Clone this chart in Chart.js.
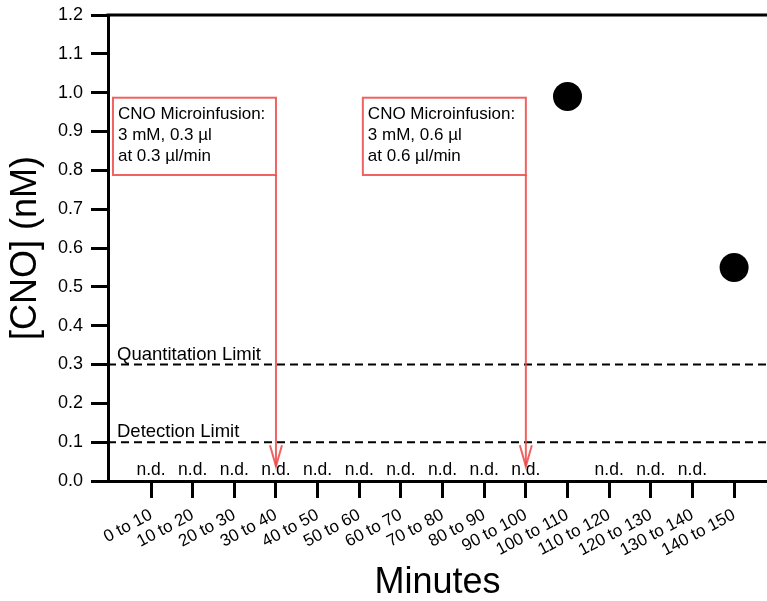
<!DOCTYPE html>
<html><head><meta charset="utf-8">
<script src="https://cdn.jsdelivr.net/npm/chart.js@4/dist/chart.umd.min.js"></script>
<style>html,body{margin:0;padding:0;background:#fff}</style>
</head><body>
<canvas id="c" width="767" height="601"></canvas>
<script>
const categories = ['0 to 10','10 to 20','20 to 30','30 to 40','40 to 50','50 to 60','60 to 70','70 to 80','80 to 90','90 to 100','100 to 110','110 to 120','120 to 130','130 to 140','140 to 150'];
const cnoValues = [null,null,null,null,null,null,null,null,null,null,0.99,null,null,null,0.55];
const notDetectedLabel = 'n.d.';
const yTickValues = [0,0.1,0.2,0.3,0.4,0.5,0.6,0.7,0.8,0.9,1.0,1.1,1.2];
const limitValues = [0.3, 0.1];
const limitLabels = ['Quantitation Limit', 'Detection Limit'];
const infusionCategories = ['30 to 40', '90 to 100'];
const infusionText = [
  ['CNO Microinfusion:', '3 mM, 0.3 \u00b5l', 'at 0.3 \u00b5l/min'],
  ['CNO Microinfusion:', '3 mM, 0.6 \u00b5l', 'at 0.6 \u00b5l/min']
];

const FONT = "'Liberation Sans', Arial, sans-serif";
const RED = 'rgba(238,70,70,0.85)';

const overlay = {
  id: 'overlay',
  afterDraw(chart) {
    const ctx = chart.ctx, ca = chart.chartArea;
    const xs = chart.scales.x, ys = chart.scales.y;
    ctx.save();
    ctx.strokeStyle = '#000'; ctx.lineWidth = 3;
    ctx.beginPath(); ctx.moveTo(ca.left - 1.5, ca.top); ctx.lineTo(chart.width, ca.top); ctx.stroke();
    ctx.setLineDash([8, 5]); ctx.lineWidth = 2;
    limitValues.forEach((v) => {
      const y = ys.getPixelForValue(v);
      ctx.beginPath(); ctx.moveTo(ca.left, y); ctx.lineTo(chart.width, y); ctx.stroke();
    });
    ctx.setLineDash([]);
    ctx.fillStyle = '#000';
    ctx.font = '18.5px ' + FONT;
    ctx.textAlign = 'left'; ctx.textBaseline = 'alphabetic';
    limitValues.forEach((v, i) => {
      const y = ys.getPixelForValue(v);
      ctx.fillText(limitLabels[i], ca.left + 9, y - 5);
    });
    ctx.font = '17.5px ' + FONT;
    ctx.textAlign = 'center';
    cnoValues.forEach((v, i) => {
      if (v === null) ctx.fillText(notDetectedLabel, xs.getPixelForValue(i), ca.bottom - 6);
    });
    infusionCategories.forEach((cat, k) => {
      const ax = xs.getPixelForValue(categories.indexOf(cat));
      const boxTop = ys.getPixelForValue(0.987);
      const boxBot = ys.getPixelForValue(0.788);
      const tipY = ys.getPixelForValue(0.038);
      const w = 163;
      ctx.strokeStyle = RED; ctx.lineWidth = 2;
      ctx.strokeRect(ax - w, boxTop, w, boxBot - boxTop);
      ctx.beginPath(); ctx.moveTo(ax, boxBot); ctx.lineTo(ax, tipY); ctx.stroke();
      ctx.beginPath();
      ctx.moveTo(ax - 6, tipY - 21); ctx.lineTo(ax, tipY); ctx.lineTo(ax + 6, tipY - 21);
      ctx.stroke();
      ctx.fillStyle = '#000';
      ctx.font = '17px ' + FONT;
      ctx.textAlign = 'left';
      infusionText[k].forEach((line, j) => {
        ctx.fillText(line, ax - w + 5, boxTop + 21 + j * 21);
      });
    });
    ctx.restore();
  }
};

new Chart(document.getElementById('c'), {
  type: 'scatter',
  data: {
    datasets: [{
      data: cnoValues.map((v, i) => ({ x: i, y: v })).filter(p => p.y !== null),
      pointRadius: 14.5,
      pointHoverRadius: 14.5,
      backgroundColor: '#000',
      borderWidth: 0,
      clip: false
    }]
  },
  options: {
    responsive: false,
    animation: false,
    events: [],
    layout: { autoPadding: false, padding: { top: 15, right: 0, left: 0, bottom: 0 } },
    plugins: { legend: { display: false }, tooltip: { enabled: false } },
    scales: {
      x: {
        type: 'linear',
        min: -1.033, max: 14.79,
        afterBuildTicks: s => { s.ticks = categories.map((c, i) => ({ value: i })); },
        afterFit: s => { s.height = 120; s.paddingLeft = 0; s.paddingRight = 0; },
        ticks: {
          autoSkip: false, maxRotation: 28, minRotation: 28, padding: 7,
          color: '#000', font: { size: 17, family: FONT },
          callback: v => categories[v]
        },
        grid: { drawOnChartArea: false, tickLength: 17, tickWidth: 3, tickColor: '#000' },
        border: { color: '#000', width: 3 },
        title: { display: true, text: 'Minutes', color: '#000', font: { size: 36, family: FONT, lineHeight: 1 }, padding: { top: 0, bottom: 0 } }
      },
      y: {
        min: 0, max: 1.2,
        afterBuildTicks: s => { s.ticks = yTickValues.map(v => ({ value: v })); },
        afterFit: s => { s.width = 108; s.paddingTop = 0; s.paddingBottom = 0; },
        ticks: {
          padding: 8, color: '#000', font: { size: 18, family: FONT },
          callback: v => v.toFixed(1)
        },
        grid: { drawOnChartArea: false, tickLength: 17, tickWidth: 3, tickColor: '#000' },
        border: { color: '#000', width: 3 },
        title: { display: true, text: '[CNO] (nM)', color: '#000', font: { size: 36, family: FONT, lineHeight: 1 }, padding: { top: 8, bottom: 0 } }
      }
    }
  },
  plugins: [overlay]
});
</script>
</body></html>
